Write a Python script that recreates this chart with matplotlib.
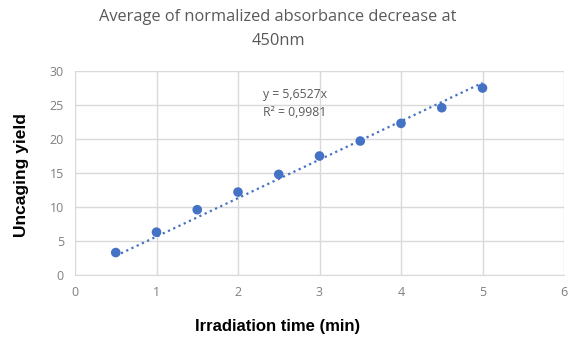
import matplotlib
matplotlib.use("Agg")
import matplotlib.pyplot as plt
import numpy as np

time_min = [0.5, 1.0, 1.5, 2.0, 2.5, 3.0, 3.5, 4.0, 4.5, 5.0]
yield_vals = [3.3, 6.3, 9.6, 12.2, 14.8, 17.5, 19.7, 22.3, 24.6, 27.5]
slope = 5.6527
r2_text = "R² = 0,9981"
eq_text = "y = 5,6527x"
x_ticks = [0, 1, 2, 3, 4, 5, 6]
y_ticks = [0, 5, 10, 15, 20, 25, 30]

blue = "#4472C4"
gray_text = "#595959"

fig = plt.figure(figsize=(5.84, 3.45), dpi=100)
ax = fig.add_axes([75/584, 1-275/345, (564-75)/584, (275-71)/345])

ax.scatter(time_min, yield_vals, s=48, color=blue, zorder=3, edgecolors="none")
xt = np.array([time_min[0], time_min[-1]])
ax.plot(xt, slope*xt, linestyle=(0, (1, 1.6)), color=blue, linewidth=1.6, zorder=2)

ax.set_xlim(0, 6)
ax.set_ylim(0, 30)
ax.set_xticks(x_ticks)
ax.set_yticks(y_ticks)
ax.grid(True, color="#d9d9d9", linewidth=1)
ax.set_axisbelow(True)
for s in ["top", "right", "left"]:
    ax.spines[s].set_visible(False)
ax.spines["bottom"].set_color("#d9d9d9")
ax.tick_params(length=0, labelsize=9, labelcolor="#7f7f7f", pad=8)
for lab in ax.get_xticklabels() + ax.get_yticklabels():
    lab.set_family("Open Sans")

ax.text(2.31, 25.25, eq_text + "\n" + r2_text, fontsize=8.8, color=gray_text,
        family="Open Sans", va="center", ha="left", linespacing=1.45)

fig.text(0.5*(100+456)/584, 1-29/345, "Average of normalized absorbance decrease at\n450nm",
         ha="center", va="center", fontsize=11.8, color=gray_text,
         family="Open Sans", linespacing=1.6)

fig.text(278/584, 1-327/345, "Irradiation time (min)", ha="center", va="center",
         fontsize=12, fontweight="bold", family="Liberation Sans", color="black")
fig.text(22/584, 1-175/345, "Uncaging yield", ha="center", va="center", rotation=90,
         fontsize=12.5, fontweight="bold", family="Liberation Sans", color="black")

fig.savefig("out.png", dpi=100)
